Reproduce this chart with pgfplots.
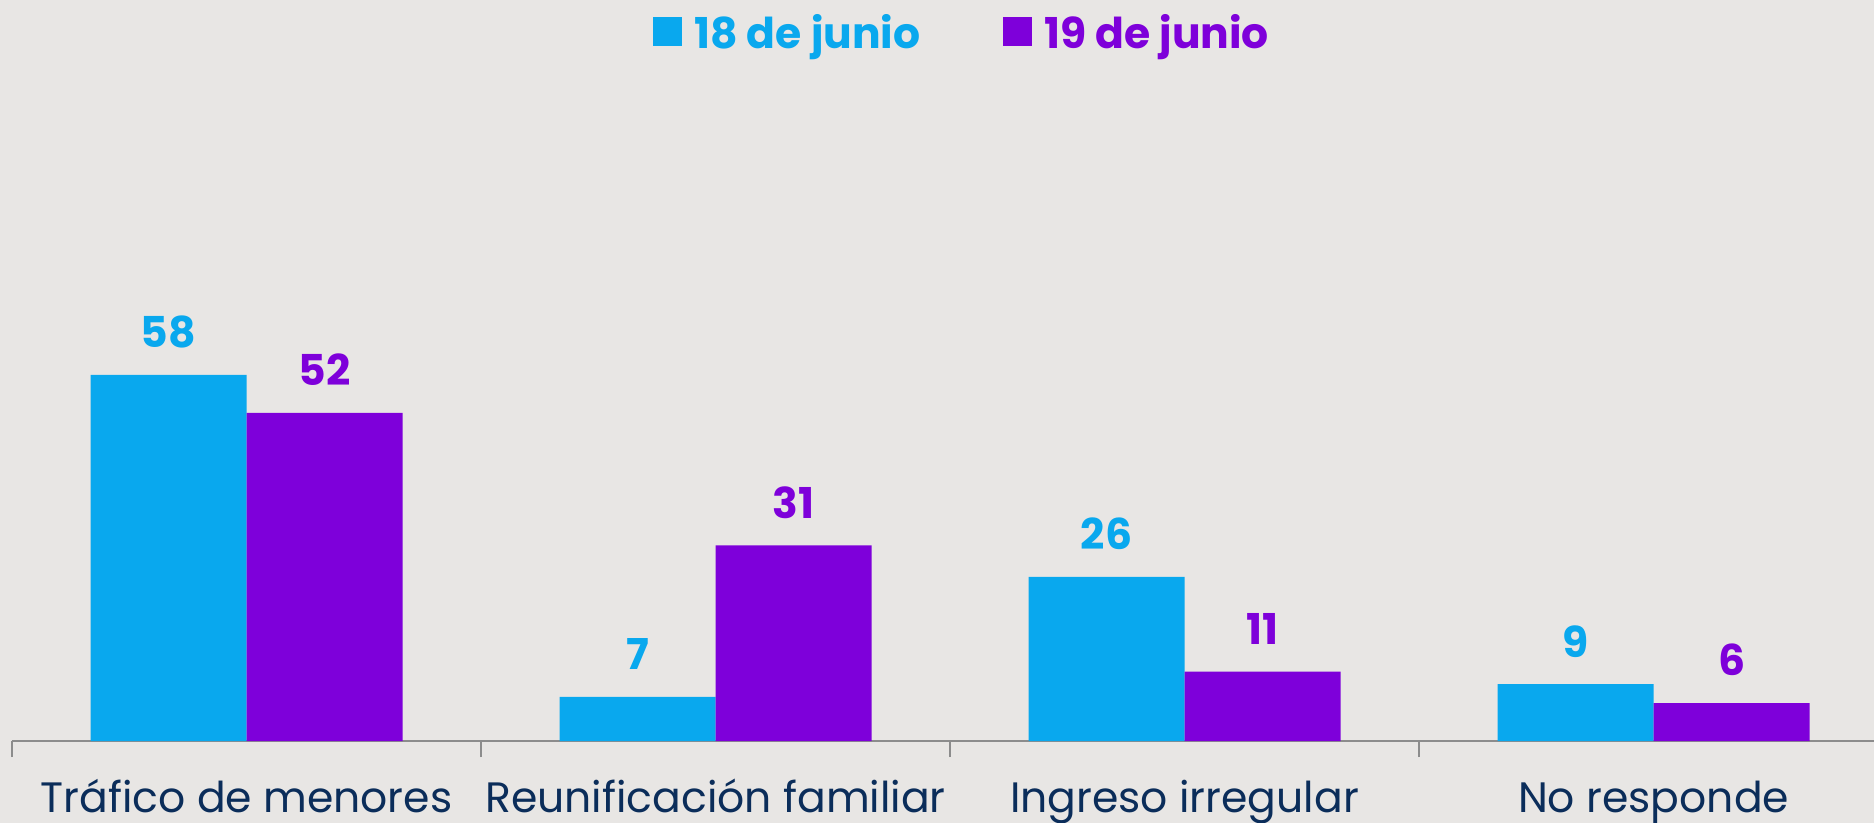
\documentclass[border=0pt]{standalone}
\usepackage{pgfplots}
\pgfplotsset{compat=1.18}
\usepackage{fontspec}
\setmainfont{Poppins}
\definecolor{bgc}{HTML}{E8E6E4}
\definecolor{cblue}{HTML}{09A8EE}
\definecolor{cpurple}{HTML}{7E00DA}
\definecolor{navy}{HTML}{0B2D5A}
\definecolor{axgray}{HTML}{8C8C8C}
\begin{document}
\begin{tikzpicture}
\path[use as bounding box, fill=bgc] (0,0) rectangle (749.6pt,329.2pt);
\begin{axis}[
  at={(4.8pt,32.8pt)}, anchor=south west,
  scale only axis,
  width=744.8pt, height=296.4pt,
  xmin=-0.5, xmax=3.47,
  ymin=0, ymax=117.4,
  axis y line=none,
  axis x line*=bottom,
  x axis line style={axgray, line width=0.8pt, -},
  ybar=0pt, bar width=62.4pt,
  clip=false,
  /pgf/number format/assume math mode=true,
  xtick={0,1,2,3},
  xticklabels={Tráfico de menores, Reunificación familiar, Ingreso irregular, No responde},
  major tick length=0pt,
  xticklabel style={font=\fontsize{17}{20}\selectfont, text=navy, anchor=base, inner sep=0pt, yshift=-28.4pt},
  extra x ticks={-0.5,0.5,1.5,2.5},
  extra x tick labels={},
  extra x tick style={major tick length=6.4pt, tick align=outside, tick style={axgray, line width=0.8pt}},
  nodes near coords,
  every node near coord/.append style={font=\fontsize{17}{20}\selectfont\bfseries, anchor=south, inner sep=0pt, yshift=10.6pt},
  legend style={at={(0.511,0.955)}, anchor=center, draw=none, fill=none,
    font=\fontsize{17}{20}\selectfont\bfseries, legend columns=2,
    /tikz/every odd column/.append style={column sep=3pt},
    /tikz/every even column/.append style={column sep=31pt},
    legend cell align=left},
  legend image code/.code={\fill[#1] (0pt,-5.2pt) rectangle (11.6pt,6.4pt);},
]
\addplot[fill=cblue, draw=none, every node near coord/.append style={text=cblue}] coordinates {(0,58) (1,7) (2,26) (3,9)};
\addplot[fill=cpurple, draw=none, every node near coord/.append style={text=cpurple}] coordinates {(0,52) (1,31) (2,11) (3,6)};
\legend{\textcolor{cblue}{18 de junio}, \textcolor{cpurple}{19 de junio}}
\end{axis}
\end{tikzpicture}
\end{document}
